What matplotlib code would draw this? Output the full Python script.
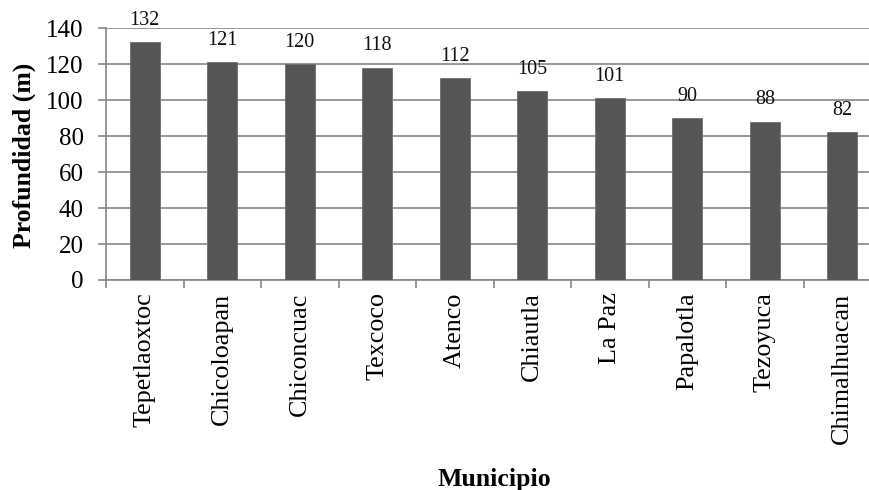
import matplotlib
matplotlib.use("Agg")
import matplotlib.pyplot as plt
from matplotlib.ticker import FixedLocator, NullFormatter

municipios = ["Tepetlaoxtoc", "Chicoloapan", "Chiconcuac", "Texcoco", "Atenco",
              "Chiautla", "La Paz", "Papalotla", "Tezoyuca", "Chimalhuacan"]
profundidad = [132, 121, 120, 118, 112, 105, 101, 90, 88, 82]
y_ticks = [0, 20, 40, 60, 80, 100, 120, 140]

plt.rcParams["font.family"] = ["Liberation Serif", "DejaVu Serif"]

W, H = 869, 490
fig = plt.figure(figsize=(W / 100, H / 100), dpi=100)
ax = fig.add_axes([106 / W, 1 - 280 / H, (881 - 106) / W, 252 / H])

grid_c = "#868686"
n = len(municipios)
x = list(range(n))
ax.bar(x, profundidad, width=0.39, color="#555555", edgecolor="#6e6e6e",
       linewidth=0.6, zorder=3)

for xi, v in zip(x, profundidad):
    ax.annotate(str(v), (xi, v), xytext=(0, 9), textcoords="offset points",
                ha="center", va="bottom", fontsize=14.5, color="#111111")

ax.set_xlim(-0.5, n - 0.5)
ax.set_ylim(0, 140)
ax.set_yticks(y_ticks)
ax.set_yticklabels([str(t) for t in y_ticks], fontsize=18)
ax.yaxis.grid(True, color=grid_c, linewidth=1.2, zorder=0)
ax.set_axisbelow(True)

# category boundaries carry the tick marks, names sit at the centres
ax.xaxis.set_major_locator(FixedLocator([i - 0.5 for i in range(n + 1)]))
ax.xaxis.set_major_formatter(NullFormatter())
ax.xaxis.set_minor_locator(FixedLocator(x))
ax.set_xticklabels(municipios, minor=True, rotation=90, fontsize=18.8)
ax.tick_params(axis="x", which="major", direction="out", length=6, color=grid_c, width=1.2)
ax.tick_params(axis="x", which="minor", length=0, pad=9)
ax.tick_params(axis="y", direction="out", length=6, color=grid_c, width=1.2, pad=10)

for s in ("top", "right"):
    ax.spines[s].set_visible(False)
for s in ("left", "bottom"):
    ax.spines[s].set_color(grid_c)
    ax.spines[s].set_linewidth(1.2)

fig.text(24 / W, 1 - 155 / H, "Profundidad (m)", rotation=90, ha="center", va="center",
         fontsize=18.5, fontweight="bold")
fig.text(494 / W, 1 - 479 / H, "Municipio", ha="center", va="center",
         fontsize=18.5, fontweight="bold")

fig.savefig("out.png", dpi=100)
